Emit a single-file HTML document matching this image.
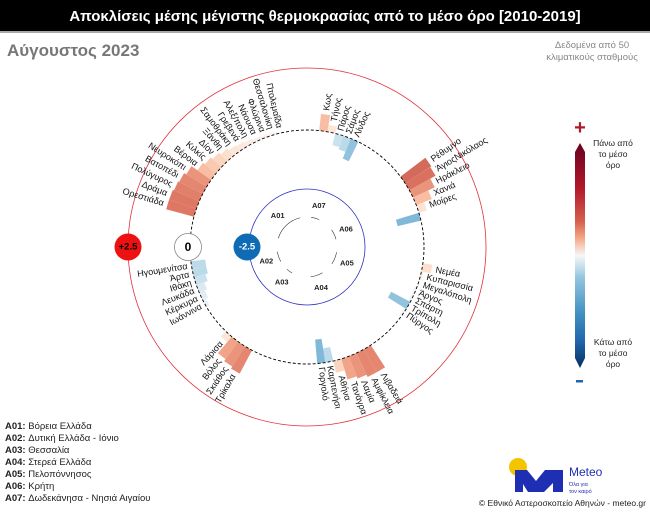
<!DOCTYPE html>
<html><head><meta charset="utf-8">
<style>
html,body{margin:0;padding:0;background:#fff;}
body{width:650px;height:511px;overflow:hidden;position:relative;font-family:"Liberation Sans","DejaVu Sans",sans-serif;}
svg text{font-family:"Liberation Sans","DejaVu Sans",sans-serif;}
</style></head>
<body>
<svg id="s" width="650" height="511" viewBox="0 0 650 511" xmlns="http://www.w3.org/2000/svg">
<defs>
<linearGradient id="cb" x1="0" y1="0" x2="0" y2="1">
<stop offset="0" stop-color="#67001f"/>
<stop offset="0.2" stop-color="#b2182b"/>
<stop offset="0.35" stop-color="#d6604d"/>
<stop offset="0.42" stop-color="#f4a582"/>
<stop offset="0.5" stop-color="#f7f7f7"/>
<stop offset="0.6" stop-color="#92c5de"/>
<stop offset="0.75" stop-color="#4393c3"/>
<stop offset="0.88" stop-color="#2166ac"/>
<stop offset="1" stop-color="#053061"/>
</linearGradient>
</defs>
<rect x="0" y="0" width="650" height="31" fill="#000"/>
<rect x="0" y="31" width="650" height="2" fill="#aaa"/>
<text x="325" y="21" fill="#fff" font-size="15" font-weight="bold" text-anchor="middle">Αποκλίσεις μέσης μέγιστης θερμοκρασίας από το μέσο όρο [2010-2019]</text>
<text x="7" y="56" fill="#777" font-size="17" font-weight="bold">Αύγουστος 2023</text>
<text x="592" y="48" fill="#888" font-size="9.5" text-anchor="middle">Δεδομένα από 50</text>
<text x="592" y="60" fill="#888" font-size="9.5" text-anchor="middle">κλιματικούς σταθμούς</text>
<g id="chart"></g>
<path d="M575,152 L580,143 L585,152 L585,358 L580,368 L575,358 Z" fill="url(#cb)"/>
<text x="580" y="134" fill="#b2182b" font-size="20" font-weight="bold" text-anchor="middle">+</text>
<rect x="576" y="380" width="7" height="2.5" fill="#2166ac"/>
<text x="613" y="146" font-size="8.5" text-anchor="middle" fill="#222">Πάνω από</text>
<text x="613" y="157" font-size="8.5" text-anchor="middle" fill="#222">το μέσο</text>
<text x="613" y="168" font-size="8.5" text-anchor="middle" fill="#222">όρο</text>
<text x="613" y="345" font-size="8.5" text-anchor="middle" fill="#222">Κάτω από</text>
<text x="613" y="356" font-size="8.5" text-anchor="middle" fill="#222">το μέσο</text>
<text x="613" y="367" font-size="8.5" text-anchor="middle" fill="#222">όρο</text>
<g font-size="9.5" fill="#222">
<text x="5" y="429"><tspan font-weight="bold">A01:</tspan> Βόρεια Ελλάδα</text>
<text x="5" y="441"><tspan font-weight="bold">A02:</tspan> Δυτική Ελλάδα - Ιόνιο</text>
<text x="5" y="453"><tspan font-weight="bold">A03:</tspan> Θεσσαλία</text>
<text x="5" y="465"><tspan font-weight="bold">A04:</tspan> Στερεά Ελλάδα</text>
<text x="5" y="477"><tspan font-weight="bold">A05:</tspan> Πελοπόννησος</text>
<text x="5" y="489"><tspan font-weight="bold">A06:</tspan> Κρήτη</text>
<text x="5" y="501"><tspan font-weight="bold">A07:</tspan> Δωδεκάνησα - Νησιά Αιγαίου</text>
</g>
<circle cx="518" cy="467" r="9" fill="#f5c400"/>
<path d="M515,492 L515,470 L527,470 L536,481 L545,470 L563,470 L563,492 L553,492 L553,483 L544,492 L528,492 L523,484 L523,492 Z" fill="#1f2fb4"/>
<text x="569" y="476" font-size="12" fill="#1f2fb4">Meteo</text>
<text x="569" y="486" font-size="5.5" fill="#1f2fb4">Όλα για</text>
<text x="569" y="493" font-size="5.5" fill="#1f2fb4">τον καιρό</text>
<text x="646" y="506" font-size="8.5" fill="#222" text-anchor="end">© Εθνικό Αστεροσκοπείο Αθηνών - meteo.gr</text>
</svg>
<script>
var NS="http://www.w3.org/2000/svg",g=document.getElementById("chart");
var cx=307,cy=247,R0=117,K=24;
function el(t,a,txt){var e=document.createElementNS(NS,t);for(var k in a)e.setAttribute(k,a[k]);if(txt!=null)e.textContent=txt;g.appendChild(e);return e;}
function pt(r,a){var t=a*Math.PI/180;return [cx+r*Math.sin(t),cy-r*Math.cos(t)];}
function col(v){
 var st=[[-2.5,[5,48,97]],[-1.5,[67,147,195]],[-1,[146,197,222]],[-0.5,[209,229,240]],[0,[247,247,247]],[0.5,[253,219,199]],[1,[244,165,130]],[1.5,[214,96,77]],[2.5,[103,0,31]]];
 if(v<=st[0][0])return "rgb("+st[0][1]+")";
 for(var i=1;i<st.length;i++){if(v<=st[i][0]){var a=st[i-1],b=st[i],f=(v-a[0])/(b[0]-a[0]);var c=[0,1,2].map(function(j){return Math.round(a[1][j]+(b[1][j]-a[1][j])*f)});return "rgb("+c+")";}}
 return "rgb(103,0,31)";}
el("circle",{cx:cx,cy:cy,r:179,fill:"none",stroke:"#e0303a","stroke-width":0.8});
el("circle",{cx:cx,cy:cy,r:58,fill:"none",stroke:"#3030c0","stroke-width":0.8});
var groups=[
 ["A01",287,[["Ορεστιάδα",1.2],["Δράμα",1.2],["Πολύγυρος",1.15],["Βατοπέδι",1.1],["Νευροκόπι",1.0],["Βέροια",0.7],["Κιλκίς",0.6],["Δίον",0.5],["Ξάνθη",0.4],["Σαμοθράκη",0.3],["Γρεβενά",0.25],["Αλεξ/πολη",0.2],["Νάουσα",0.15],["Φλώρινα",0.1],["Θεσσαλονίκη",0.1],["Πτολεμαΐδα",0.05]]],
 ["A02",261,[["Ηγουμενίτσα",-0.6],["Άρτα",-0.6],["Ιθάκη",-0.5],["Λευκάδα",-0.35],["Κέρκυρα",-0.25],["Ιωάννινα",-0.15]],-1],
 ["A03",222,[["Λάρισα",0.3],["Βόλος",0.9],["Σκιάθος",1.0],["Τρίκαλα",1.1]],-1],
 ["A04",149,[["Λιβαδειά",1.1],["Αμφίκλεια",1.1],["Λαμία",1.0],["Τανάγρα",0.9],["Αθήνα",0.5],["Καρπενήσι",-0.6],["Γοργολό",-1.0]]],
 ["A05",100,[["Νεμέα",0.4],["Κυπαρισσία",0.1],["Μεγαλόπολη",0.05],["Άργος",-0.1],["Σπάρτη",-0.1],["Τρίπολη",-0.9],["Πύργος",-0.1]]],
 ["A06",55,[["Ρέθυμνο",1.3],["ΆγιοςΝικόλαος",1.25],["Ηράκλειο",1.0],["Χανιά",0.7],["Μοίρες",0.35],["",-1.0]]],
 ["A07",8,[["Κως",0.7],["Τήνος",0.3],["Πάρος",-0.5],["Σάμος",-0.6],["Λίνδος",-0.9]]]
];
var W=4;
groups.forEach(function(G){
 var dir=G[3]||1, st=G[1], list=G[2];
 list.forEach(function(s,i){
  var a=st+dir*i*W, a1=a-W/2, a2=a+W/2, v=s[1];
  var r1=R0, r2=R0+v*K;
  var p1=pt(r1,a1),p2=pt(r2,a1),p3=pt(r2,a2),p4=pt(r1,a2);
  el("path",{d:"M"+p1+"L"+p2+"L"+p3+"L"+p4+"Z",fill:col(v*1.2),"fill-opacity":0.9});
  if(s[0]){
   var rl=R0+Math.max(v,0)*K+4; var p=pt(rl,a);
   var right=(a%360)<180;
   var rot=right?a-90:a+90;
   el("text",{x:p[0],y:p[1],"font-size":9,"text-anchor":right?"start":"end","dominant-baseline":"central",transform:"rotate("+rot+" "+p[0]+" "+p[1]+")",fill:"#111"},s[0]);
  }
 });
 var aEnd=st+dir*(list.length-1)*W, lo=Math.min(st,aEnd), hi=Math.max(st,aEnd);
 var q1=pt(30,lo),q2=pt(30,hi);
 el("path",{d:"M"+q1+"A30,30 0 "+((hi-lo)>180?1:0)+",1 "+q2,fill:"none",stroke:"#333","stroke-width":0.6});
 var m=pt(43,(lo+hi)/2);
 el("text",{x:m[0],y:m[1],"font-size":7.5,"font-weight":"bold","text-anchor":"middle","dominant-baseline":"central",fill:"#222"},G[0]);
});
el("circle",{cx:cx,cy:cy,r:R0,fill:"none",stroke:"#000","stroke-width":0.9,"stroke-dasharray":"3,2"});
[[128,"#ee1111","+2.5","#000"],[188,"#fff","0","#000"],[247,"#0f6cb4","-2.5","#fff"]].forEach(function(m){
 el("circle",{cx:m[0],cy:247,r:13.5,fill:m[1],stroke:m[1]=="#fff"?"#888":"none","stroke-width":0.8});
 el("text",{x:m[0],y:247,"font-size":m[2]=="0"?12:9.5,"font-weight":"bold","text-anchor":"middle","dominant-baseline":"central",fill:m[3]},m[2]);
});
</script>
</body></html>
